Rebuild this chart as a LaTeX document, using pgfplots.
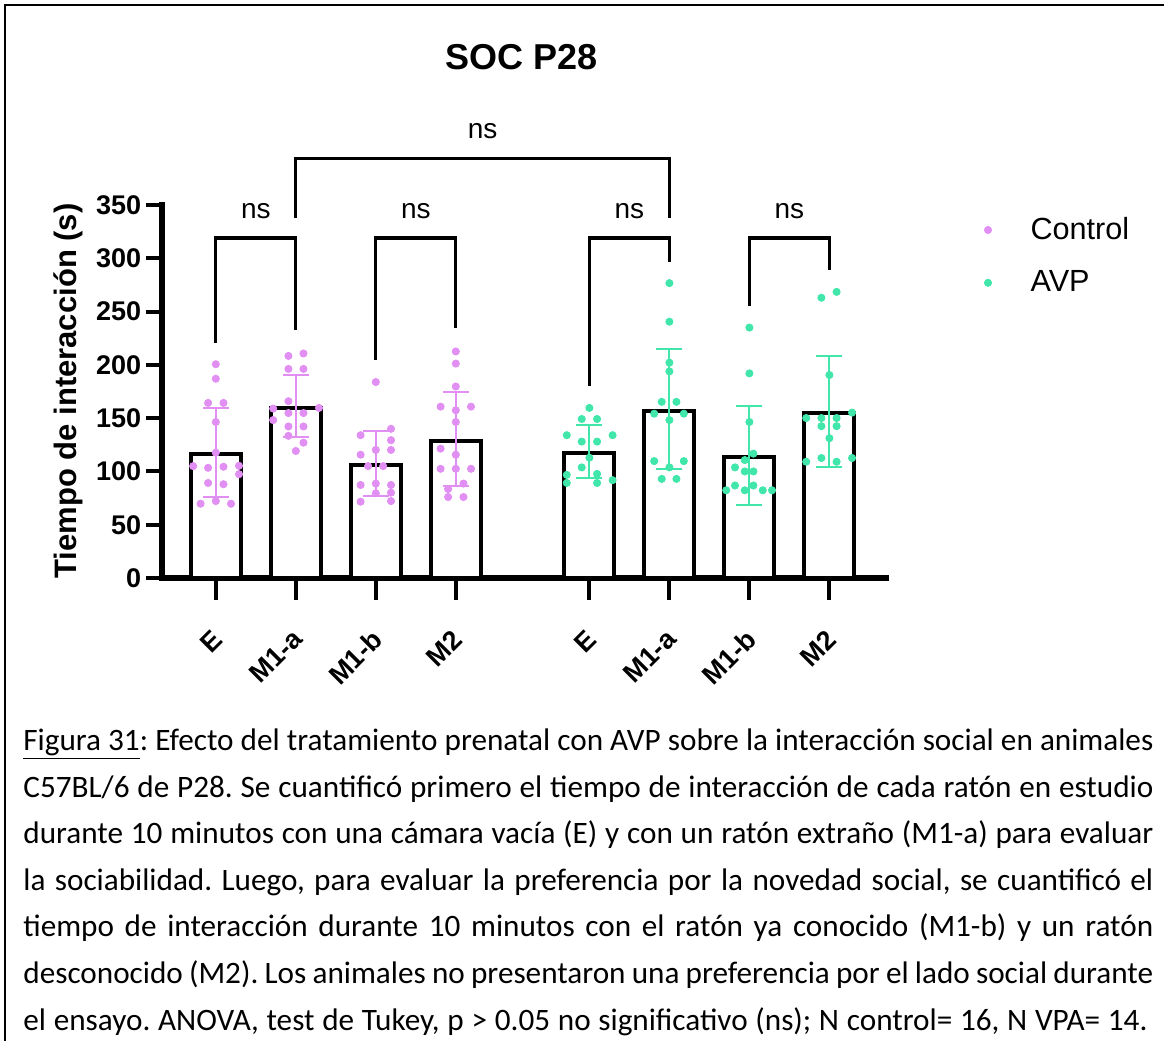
\documentclass[border=0pt]{standalone}
\usepackage{fontspec}
\setmainfont{Liberation Sans}
\newfontfamily\carlito{Carlito}
\usepackage{pgfplots}
\pgfplotsset{compat=1.18}
\definecolor{ctrl}{RGB}{226,143,243}
\definecolor{avp}{RGB}{64,230,170}
\begin{document}
\frenchspacing
\begin{tikzpicture}
\begin{scope}[x=0.5pt,y=-0.5pt]
\useasboundingbox (0,0) rectangle (1164,1041);
\draw[line width=1.2pt] (5,1041) -- (5,5) -- (1164,5);
\node[font=\fontsize{18}{21}\selectfont\bfseries, anchor=base, inner sep=0pt] at (522,69) {SOC P28};
\node[font=\fontsize{15.5}{18}\selectfont\bfseries, rotate=90, anchor=base, inner sep=0pt] at (76,391) {Tiempo de interacción (s)};
\begin{scope}[every node/.style={anchor=base west, inner sep=0pt, font=\carlito\fontsize{15.6}{18}\selectfont}]
\node at (23,750.4) {\makebox[565pt][s]{\underline{Figura 31}: Efecto del tratamiento prenatal con AVP sobre la interacción social en animales}};
\node at (23,797) {\makebox[565pt][s]{C57BL/6 de P28. Se cuantificó primero el tiempo de interacción de cada ratón en estudio}};
\node at (23,843.6) {\makebox[565pt][s]{durante 10 minutos con una cámara vacía (E) y con un ratón extraño (M1-a) para evaluar}};
\node at (23,890.2) {\makebox[565pt][s]{la sociabilidad. Luego, para evaluar la preferencia por la novedad social, se cuantificó el}};
\node at (23,936.8) {\makebox[565pt][s]{tiempo de interacción durante 10 minutos con el ratón ya conocido (M1-b) y un ratón}};
\node at (23,983.4) {\makebox[565pt][s]{desconocido (M2). Los animales no presentaron una preferencia por el lado social durante}};
\node at (23,1030) {\makebox[562pt][s]{el ensayo. ANOVA, test de Tukey, p > 0.05 no significativo (ns); N control= 16, N VPA= 14.}};
\end{scope}
\end{scope}
\begin{axis}[
  at={(81pt,-289pt)}, anchor=south west,
  scale only axis, width=362pt, height=186.5pt,
  xmin=-0.6725, xmax=8.3775, ymin=0, ymax=350,
  clip=false,
  axis x line*=bottom, axis y line*=left,
  axis line style={line width=3pt, -, line cap=rect},
  tick align=outside,
  xtick={0,1,2,3,4.67,5.67,6.67,7.67},
  xticklabels={E,M1-a,M1-b,M2,E,M1-a,M1-b,M2},
  ytick={0,50,...,350},
  xtick style={line width=2pt, black, /pgfplots/major tick length=11pt},
  ytick style={line width=2pt, black, /pgfplots/major tick length=8pt},
  ticklabel style={font=\fontsize{13.5}{16}\selectfont\bfseries},
  /pgf/number format/assume math mode=true,
  xticklabel style={xshift=1.1pt, yshift=-24pt, rotate=45, anchor=east, inner sep=0pt},
  yticklabel style={xshift=-6pt, anchor=east, inner sep=0pt},
  legend image code/.code={\draw[#1] plot coordinates {(0pt,0pt)};},
  legend style={at={(1,1)}, anchor=north west, xshift=49pt, yshift=-6pt,
    draw=none, fill=none, inner sep=0pt, row sep=14.1pt,
    font=\fontsize{15.3}{18}\selectfont, nodes={inner sep=0pt},
    /tikz/every odd column/.append style={column sep=19.5pt}},
  legend cell align=left,
]
\addplot[ybar, bar width=0.625, bar shift=0pt, fill=white, draw=black, line width=2pt, line join=miter, forget plot]
  coordinates {(0,116.3)(1,159.6)(2,106)(3,128.7)(4.67,117.6)(5.67,156.8)(6.67,113.2)(7.67,154.8)};

\addplot[only marks, mark=*, mark size=1.8pt, color=ctrl] coordinates {
(0,200.6)(0,187)(-0.096,164.3)(0.096,164.3)(0,146.4)(0,117.6)(-0.283,105)(-0.096,103.4)(0.096,104.4)(0.29,105.3)(0.29,97.4)(-0.096,89.2)(0.096,88)(-0.19,69.7)(0,72.2)(0.19,69.7)
(0.908,208.4)(1.096,210.7)(0.908,196.2)(1.096,196.2)(0.908,165.9)(0.717,159)(1.29,159.6)(0.717,148.2)(0.908,154.8)(1.096,154.8)(0.908,142.2)(1.096,142.2)(0.908,133.4)(1.096,127)(1,119.2)
(2,183.9)(2.19,140)(1.81,134)(2.19,129.3)(2,120.2)(2.19,120.2)(1.81,115.7)(1.904,105)(2.092,105)(1.81,87.3)(2,88.6)(2.19,87.3)(2,79.5)(2.19,80.1)(1.81,71.6)(2.19,72.2)
(3,212.6)(3,201.2)(3,179.7)(2.81,160.8)(3.19,160.8)(3,157.4)(3,146.4)(2.81,121.4)(3,115.7)(2.81,102.5)(3,102.5)(3.19,102.5)(3.096,88.6)(2.904,83.5)(2.904,76)(3.096,76)
};
\addlegendentry{Control}
\addplot[only marks, mark=*, mark size=1.8pt, color=avp] coordinates {
(4.67,159.6)(4.574,149.2)(4.766,149.2)(4.387,134)(4.96,134)(4.574,128)(4.766,128)(4.67,112.9)(4.574,103.8)(4.387,96.8)(4.766,97.7)(4.387,89.2)(4.766,89.2)(4.96,91.8)
(5.67,276.7)(5.67,240.5)(5.67,202.1)(5.67,193.9)(5.574,165.3)(5.758,165.3)(5.48,154.2)(5.85,154.2)(5.67,148.2)(5.48,109.7)(5.85,109.7)(5.67,103.8)(5.574,93)(5.758,93)
(6.67,235)(6.67,192)(6.67,146.4)(6.72,116.7)(6.612,110.7)(6.49,103.8)(6.612,100)(6.72,100)(6.49,86.8)(6.72,86.8)(6.38,82.3)(6.612,82.3)(6.837,82.3)(6.953,82.3)
(7.57,263)(7.76,268.5)(7.67,190.5)(7.953,155.2)(7.38,150.1)(7.57,150.1)(7.76,150.1)(7.57,142.5)(7.76,142.5)(7.67,131.2)(7.57,112.6)(7.953,112.6)(7.38,109.1)(7.76,109.1)
};
\addlegendentry{AVP}

\addplot[draw=none, mark=none, forget plot,
  error bars/.cd, y dir=both, y explicit,
  error bar style={ctrl, line width=1pt},
  error mark options={rotate=90, ctrl, line width=1pt, mark size=6.5pt}]
  coordinates {(0,116.3) += (0,43.3) -= (0,40.3)
               (1,159.6) += (0,30.9) -= (0,27.6)
               (2,106) += (0,32) -= (0,28.7)
               (3,128.7) += (0,46) -= (0,42.6)};
\addplot[draw=none, mark=none, forget plot,
  error bars/.cd, y dir=both, y explicit,
  error bar style={avp, line width=1pt},
  error mark options={rotate=90, avp, line width=1pt, mark size=6.5pt}]
  coordinates {(4.67,117.6) += (0,25.9) -= (0,23.3)
               (5.67,156.8) += (0,57.7) -= (0,54.9)
               (6.67,113.2) += (0,48.3) -= (0,44.4)
               (7.67,154.8) += (0,53.6) -= (0,50.4)};

\begin{scope}[line width=1.6pt, line join=miter]
\draw (axis cs:0,220.5) |- (axis cs:1,319) -- (axis cs:1,232.6);
\draw (axis cs:2,204.5) |- (axis cs:3,319) -- (axis cs:3,234.5);
\draw (axis cs:4.67,180) |- (axis cs:5.67,319) -- (axis cs:5.67,296.4);
\draw (axis cs:6.67,255) |- (axis cs:7.67,319) -- (axis cs:7.67,289);
\draw (axis cs:1,337.7) |- (axis cs:5.67,394) -- (axis cs:5.67,337.7);
\end{scope}
\begin{scope}[every node/.style={font=\fontsize{14}{16}\selectfont, anchor=base, inner sep=0pt}]
\node at (axis cs:0.5,337.2) {ns};
\node at (axis cs:2.5,337.2) {ns};
\node at (axis cs:5.17,337.2) {ns};
\node at (axis cs:7.17,337.2) {ns};
\node at (axis cs:3.335,412.3) {ns};
\end{scope}
\end{axis}
\end{tikzpicture}
\end{document}
